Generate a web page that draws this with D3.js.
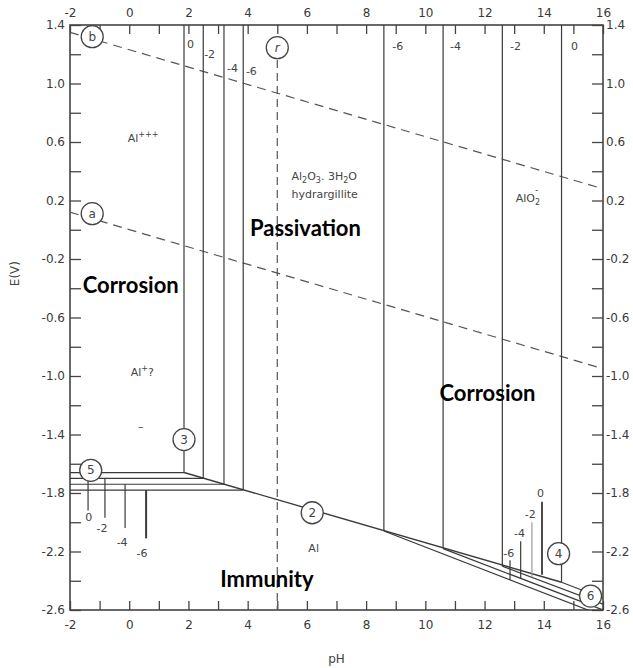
<!DOCTYPE html>
<html>
<head>
<meta charset="utf-8">
<script src="https://cdn.jsdelivr.net/npm/d3@7"></script>
<style>
  body { margin: 0; background: #fff; }
  .tick text { font-family: "DejaVu Sans", Verdana, sans-serif; font-size: 12px; fill: #3a3a3a; }
  .tick line { stroke: #444; stroke-width: 1.3; }
  .lbl { font-family: "DejaVu Sans", Verdana, sans-serif; font-size: 11px; fill: #444; }
  .big { font-family: Lato, sans-serif; font-weight: bold; font-size: 21px; fill: #000; }
</style>
</head>
<body>
<div id="chart"></div>
<script>
// Al Pourbaix diagram: E(V) vs pH
let svgWidth = 633;
let svgHeight = 668;

let margin = { top: 25, right: 30, bottom: 58, left: 70 };
let width = svgWidth - margin.left - margin.right;
let height = svgHeight - margin.top - margin.bottom;

// axis ticks
const phTicks = d3.range(-2, 17, 1);
const phLabels = [-2, 0, 2, 4, 6, 8, 10, 12, 14, 16];
const eTicks = [1.4, 1.2, 1.0, 0.8, 0.6, 0.4, 0.2, 0.0, -0.2, -0.4, -0.6, -0.8, -1.0, -1.2, -1.4, -1.6, -1.8, -2.0, -2.2, -2.4, -2.6];
const eLabels = ["1.4", "1.0", "0.6", "0.2", "-0.2", "-0.6", "-1.0", "-1.4", "-1.8", "-2.2", "-2.6"];

// log concentration of the curves
const logConc = ["0", "-2", "-4", "-6"];
// Al3+ / hydrargillite boundary (pH) and Al/Al3+ level (E)
const al3pH = [1.85, 2.5, 3.2, 3.85];
const al3E = [-1.66, -1.70, -1.74, -1.78];
// hydrargillite / AlO2- boundary (pH), its foot on line 2 (E), end of AlO2-/Al line at pH 16 (E)
const alo2pH = [14.6, 12.6, 10.6, 8.6];
const alo2FootE = [-2.41, -2.30, -2.18, -2.06];
const alo2EndE = [-2.52, -2.56, -2.60, -2.64];
// line 2: Al / Al2O3.3H2O
const line2 = [[1.85, -1.66], [14.6, -2.41]];
// water lines a and b
const lineA = [[-2, 0.12], [16, -0.95]];
const lineB = [[-2, 1.35], [16, 0.28]];
// line r
const lineRpH = 5;
const lineRTopE = 1.16;

// small concentration markers on the left (pH, bottom E, label E)
const leftMarkPH = [-1.39, -0.82, -0.14, 0.57];
const leftMarkEndE = [-1.92, -1.97, -2.04, -2.11];
const leftLabelPH = [-1.37, -0.92, -0.24, 0.43];
const leftLabelE = [-1.99, -2.07, -2.16, -2.24];
// markers on the right
const rightMarkPH = [13.94, 13.6, 13.22, 12.86];
const rightMarkTopE = [-1.86, -2.0, -2.13, -2.26];
const rightLabelPH = [13.89, 13.54, 13.18, 12.82];
const rightLabelE = [-1.83, -1.97, -2.10, -2.24];
// labels at the top of the vertical lines
const topLeftLabelPH = [1.95, 2.53, 3.3, 3.94];
const topLeftLabelE = [1.243, 1.174, 1.079, 1.058];
const topRightLabelPH = [14.92, 12.86, 10.83, 8.88];
const topRightLabelE = 1.229;

// numbered circles
const circles = [
  { t: "b", pH: -1.25, E: 1.32 },
  { t: "a", pH: -1.25, E: 0.11 },
  { t: "r", pH: 5.0, E: 1.245 },
  { t: "3", pH: 1.85, E: -1.435 },
  { t: "5", pH: -1.3, E: -1.645 },
  { t: "2", pH: 6.18, E: -1.935 },
  { t: "4", pH: 14.5, E: -2.215 },
  { t: "6", pH: 15.58, E: -2.505 }
];

let svg = d3.select("#chart")
  .append("svg")
  .attr("width", svgWidth)
  .attr("height", svgHeight);

const x = d3.scaleLinear().domain([-2, 16]).range([margin.left, margin.left + width]);
const y = d3.scaleLinear().domain([-2.6, 1.4]).range([margin.top + height, margin.top]);

svg.append("defs").append("clipPath").attr("id", "plot")
  .append("rect")
  .attr("x", x(-2)).attr("y", y(1.4))
  .attr("width", width).attr("height", height);

// axes (ticks inside the frame)
const phFmt = d => phLabels.includes(d) ? d : "";
const eFmt = d => {
  let s = d.toFixed(1);
  if (s === "-0.0") s = "0.0";
  return eLabels.includes(s) ? s : "";
};

function styleAxis(g) {
  g.select(".domain").remove();
}

svg.append("g")
  .attr("transform", `translate(0, ${y(-2.6)})`)
  .call(d3.axisBottom(x).tickValues(phTicks).tickSize(-9).tickPadding(10).tickFormat(phFmt))
  .call(styleAxis);

svg.append("g")
  .attr("transform", `translate(0, ${y(1.4)})`)
  .call(d3.axisTop(x).tickValues(phTicks).tickSize(-9).tickPadding(8).tickFormat(phFmt))
  .call(styleAxis);

svg.append("g")
  .attr("transform", `translate(${x(-2)}, 0)`)
  .call(d3.axisLeft(y).tickValues(eTicks).tickSize(-11).tickPadding(5).tickFormat(eFmt))
  .call(styleAxis);

svg.append("g")
  .attr("transform", `translate(${x(16)}, 0)`)
  .call(d3.axisRight(y).tickValues(eTicks).tickSize(-11).tickPadding(3).tickFormat(eFmt))
  .call(styleAxis);

svg.append("rect")
  .attr("x", x(-2)).attr("y", y(1.4))
  .attr("width", width).attr("height", height)
  .attr("fill", "none")
  .attr("stroke", "#444")
  .attr("stroke-width", 1.6);

// axis titles
svg.append("text")
  .attr("class", "lbl")
  .attr("x", x(7)).attr("y", 663)
  .attr("text-anchor", "middle")
  .style("font-size", "12px")
  .text("pH");

svg.append("text")
  .attr("class", "lbl")
  .attr("transform", `translate(19, ${y(-0.3)}) rotate(-90)`)
  .attr("text-anchor", "middle")
  .style("font-size", "12px")
  .text("E(V)");

let lines = svg.append("g").attr("clip-path", "url(#plot)")
  .attr("stroke", "#3a3a3a").attr("fill", "none").attr("stroke-width", 1.2);

const path = d3.line().x(d => x(d[0])).y(d => y(d[1]));

// dashed water lines and r
lines.append("path").attr("d", path(lineA)).attr("stroke-dasharray", "9,6").attr("stroke", "#555");
lines.append("path").attr("d", path(lineB)).attr("stroke-dasharray", "9,6").attr("stroke", "#555");
lines.append("path").attr("d", path([[lineRpH, lineRTopE], [lineRpH, -2.6]]))
  .attr("stroke-dasharray", "8,5").attr("stroke", "#555");

// Al3+ boundaries
al3pH.forEach((p, i) => {
  lines.append("path").attr("d", path([[p, 1.4], [p, al3E[i]]]));
  lines.append("path").attr("d", path([[-2, al3E[i]], [p, al3E[i]]]));
});

// line 2
lines.append("path").attr("d", path(line2)).attr("stroke-width", 1.4);

// AlO2- boundaries
alo2pH.forEach((p, i) => {
  lines.append("path").attr("d", path([[p, 1.4], [p, alo2FootE[i]]]));
  lines.append("path").attr("d", path([[p, alo2FootE[i]], [16, alo2EndE[i]]]));
});

// small markers
leftMarkPH.forEach((p, i) => {
  lines.append("path").attr("d", path([[p, al3E[i]], [p, leftMarkEndE[i]]]))
    .attr("stroke-width", i === 3 ? 2 : 1.2);
});
rightMarkPH.forEach((p, i) => {
  const k = alo2pH[i];
  const endE = alo2FootE[i] + (alo2EndE[i] - alo2FootE[i]) * (p - k) / (16 - k);
  lines.append("path").attr("d", path([[p, rightMarkTopE[i]], [p, endE]]))
    .attr("stroke", i === 1 ? "#999" : "#3a3a3a")
    .attr("stroke-width", i === 0 ? 1.8 : 1.2);
});

// labels for the concentrations
let labels = svg.append("g").attr("class", "lbl");
logConc.forEach((c, i) => {
  labels.append("text").attr("x", x(topLeftLabelPH[i])).attr("y", y(topLeftLabelE[i])).text(c);
  labels.append("text").attr("x", x(topRightLabelPH[i])).attr("y", y(topRightLabelE)).text(c);
  labels.append("text").attr("x", x(leftLabelPH[i])).attr("y", y(leftLabelE[i]))
    .attr("text-anchor", "middle").text(c);
  labels.append("text").attr("x", x(rightLabelPH[i])).attr("y", y(rightLabelE[i]))
    .attr("text-anchor", "middle").text(c);
});

// species labels
let t1 = labels.append("text").attr("x", x(-0.05)).attr("y", y(0.6));
t1.append("tspan").text("Al");
t1.append("tspan").attr("dy", -5).style("font-size", "8px").text("+++");

let t2 = labels.append("text").attr("x", x(0.05)).attr("y", y(-1.0));
t2.append("tspan").text("Al");
t2.append("tspan").attr("dy", -5).style("font-size", "8px").text("+");
t2.append("tspan").attr("dy", 5).text("?");

labels.append("text").attr("x", x(0.3)).attr("y", y(-1.37)).text("–");

let t3 = labels.append("text").attr("x", x(5.48)).attr("y", y(0.34));
t3.append("tspan").text("Al");
t3.append("tspan").attr("dy", 3).style("font-size", "8px").text("2");
t3.append("tspan").attr("dy", -3).text("O");
t3.append("tspan").attr("dy", 3).style("font-size", "8px").text("3");
t3.append("tspan").attr("dy", -3).text(". 3H");
t3.append("tspan").attr("dy", 3).style("font-size", "8px").text("2");
t3.append("tspan").attr("dy", -3).text("O");

labels.append("text").attr("x", x(5.48)).attr("y", y(0.22)).text("hydrargillite");

let t4 = labels.append("text").attr("x", x(13.05)).attr("y", y(0.19));
t4.append("tspan").text("AlO");
t4.append("tspan").attr("dy", 3).style("font-size", "8px").text("2");
t4.append("tspan").attr("dx", -5).attr("dy", -12).style("font-size", "9px").text("-");

labels.append("text").attr("x", x(6.05)).attr("y", y(-2.2)).text("Al");

// numbered circles
let cg = svg.append("g");
circles.forEach(c => {
  cg.append("circle")
    .attr("cx", x(c.pH)).attr("cy", y(c.E)).attr("r", 11)
    .attr("fill", "#fff").attr("stroke", "#444").attr("stroke-width", 1.3);
  cg.append("text")
    .attr("class", "lbl")
    .attr("x", x(c.pH)).attr("y", y(c.E))
    .attr("text-anchor", "middle")
    .attr("dominant-baseline", "central")
    .style("font-size", "12px")
    .style("font-style", c.t === "r" ? "italic" : "normal")
    .text(c.t);
});

// region names
const regionNames = ["Passivation", "Corrosion", "Corrosion", "Immunity"];
const regionPH = [5.95, 0.05, 12.1, 4.65];
const regionE = [-0.04, -0.43, -1.17, -2.44];
svg.append("g").selectAll("text")
  .data(regionNames)
  .enter()
  .append("text")
  .attr("class", "big")
  .attr("x", (d, i) => x(regionPH[i]))
  .attr("y", (d, i) => y(regionE[i]))
  .attr("text-anchor", "middle")
  .style("font-size", "22px")
  .text(d => d);
</script>
</body>
</html>
